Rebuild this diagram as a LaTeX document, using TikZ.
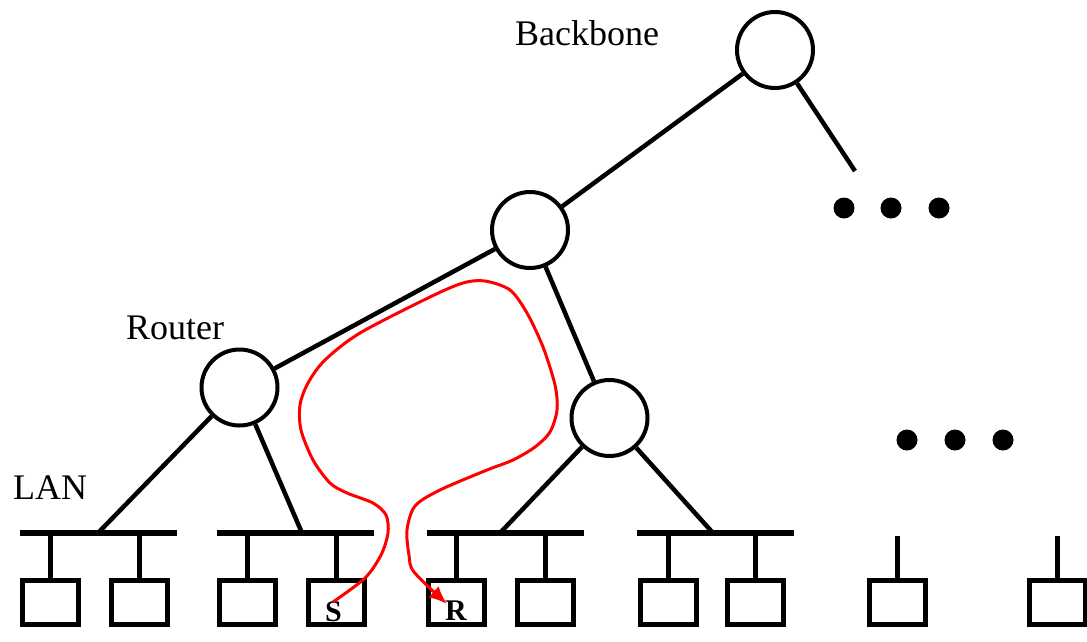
\documentclass[tikz,border=0pt]{standalone}
\usepackage{fontspec}
\setmainfont{Liberation Serif}
\usetikzlibrary{arrows.meta}
\begin{document}
\begin{tikzpicture}[x=1pt,y=-1pt,
  router/.style={circle,draw,line width=4pt,minimum size=76pt,inner sep=0pt},
  link/.style={line width=4.5pt},
  bus/.style={line width=6pt},
  drop/.style={line width=5pt},
  host/.style={draw,line width=5pt,minimum width=56pt,minimum height=44pt,inner sep=0pt},
  lbl/.style={inner sep=0pt,anchor=base west,font=\fontsize{36}{40}\selectfont},
  hostlbl/.style={inner sep=0pt,anchor=base,font=\fontsize{30}{34}\selectfont\bfseries},
  path/.style={red,line width=3pt,-{Latex[length=18pt,width=15pt]}},
  dot/.style={circle,fill,inner sep=0pt,minimum size=21pt}]
\useasboundingbox (0,0) rectangle (1087,641);

% routers
\node[router] (bb) at (775,50) {};
\node[router] (m) at (530,230) {};
\node[router] (r) at (239.5,387.5) {};
\node[router] (rm) at (609.5,418) {};

% labels
\node[lbl] (tb) at (515,45) {Backbone};
\node[lbl] (tr) at (126,339) {Router};
\node[lbl] (tl) at (13,499) {LAN};

% bus junctions
\coordinate (j1) at (98,533);
\coordinate (j2) at (302,533);
\coordinate (j3) at (500,533);
\coordinate (j4) at (713,533);
\coordinate (e) at (855,171);

% links
\draw[link] (bb) -- (m);
\draw[link] (bb) -- (e);
\draw[link] (m) -- (r);
\draw[link] (m) -- (rm);
\draw[link] (r) -- (j1);
\draw[link] (r) -- (j2);
\draw[link] (rm) -- (j3);
\draw[link] (rm) -- (j4);

% buses
\draw[bus] (20,533) -- (177,533);
\draw[bus] (217,533) -- (374,533);
\draw[bus] (427,533) -- (584,533);
\draw[bus] (637,533) -- (794,533);

% hosts
\foreach \n/\x in {h1/50.5,h2/139,h3/247.5,h4/336,h5/456.5,h6/545.5,h7/668,h8/755.5}{
  \node[host] (\n) at (\x,602.5) {};
  \draw[drop] (\n.north) -- (\n.north |- 0,533);
}
\foreach \n/\x in {h9/897,h10/1057}{
  \node[host] (\n) at (\x,602.5) {};
  \draw[drop] (\n.north) -- (\n.north |- 0,536);
}

% dots
\foreach \n/\x/\y in {d1/844/208,d2/891/208,d3/939/208,d4/907/440,d5/955/440,d6/1003/440}{
  \node[dot] (\n) at (\x,\y) {};
}

% S and R
\node[hostlbl] (S) at (333.5,621) {S};
\node[hostlbl] (R) at (456,620) {R};

% route
\draw[path] plot[smooth,tension=0.5] coordinates {
  (333,602) (365,578) (381,555) (388,533) (386,515) (373,503) (347,493)
  (330,483) (313,460) (301,430) (300,405) (308,383) (325,360) (360,333)
  (430,297) (463,283) (485,281) (510,290) (527,313) (543,347) (555,385)
  (557,410) (550,432) (535,447) (513,460) (487,470) (440,490) (415,506)
  (407,530) (409,555) (414,572) (447,604)};
\end{tikzpicture}
\end{document}
